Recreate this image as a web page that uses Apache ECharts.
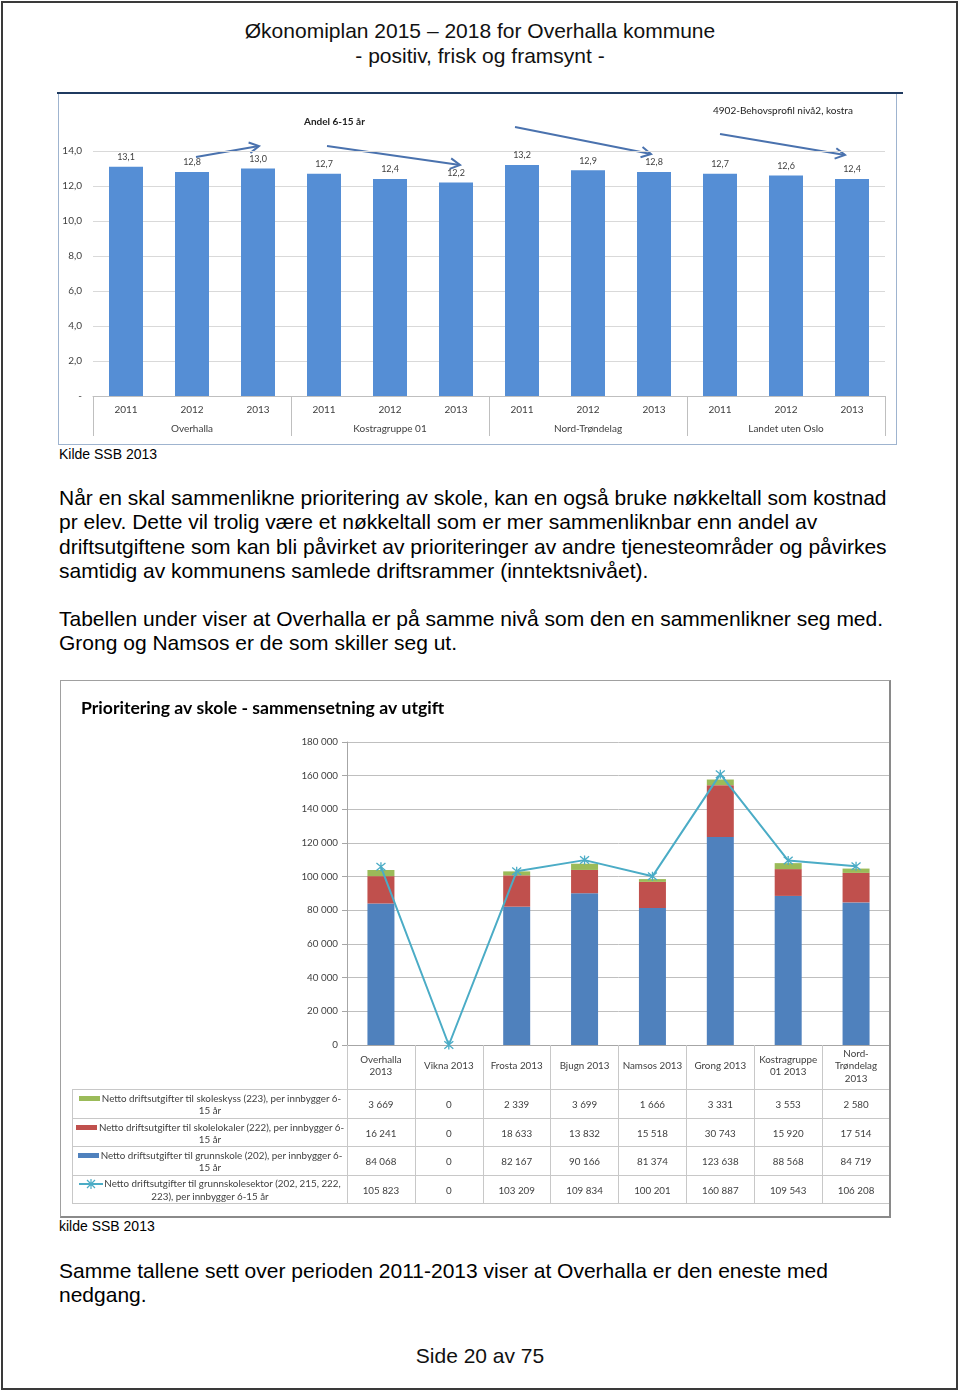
<!DOCTYPE html>
<html>
<head>
<meta charset="utf-8">
<script src="https://cdn.jsdelivr.net/npm/echarts@6.0.0/dist/echarts.min.js"></script>
<style>
  html, body { margin:0; padding:0; background:#fff; }
  body { width:960px; height:1393px; position:relative; overflow:hidden; font-family:"Liberation Sans", Arial, sans-serif; color:#000; }
  .abs { position:absolute; }
  .txt { position:absolute; left:59px; font-size:21px; line-height:24.3px; white-space:nowrap; }
  .hdr { position:absolute; left:0; width:960px; text-align:center; font-size:21px; line-height:24px; white-space:nowrap; color:#111; }
  #tbl { position:absolute; left:72px; top:1089px; width:818px; display:grid;
         grid-template-columns:275px repeat(8, 1fr); grid-template-rows:29px 28px 29px 29px;
         font-family:Lato, "Open Sans", sans-serif; font-size:9.8px; color:#404040; z-index:5; }
  #tbl .c { box-sizing:border-box; border-top:1px solid #C8C8C8; display:flex; align-items:center; justify-content:center; text-align:center; }
  #tbl .lg { border-left:1px solid #C8C8C8; line-height:12px; white-space:nowrap; }
  #tbl .last { border-bottom:1px solid #C8C8C8; }
  .sw { display:inline-block; width:21px; height:5px; vertical-align:middle; margin-right:2px; position:relative; top:-1px; }
</style>
</head>
<body>
<div class="abs" style="left:1px;top:1px;width:957px;height:1389px;border:2px solid #3a3a3a;box-sizing:border-box;"></div>

<div class="hdr" style="top:19px;">Økonomiplan 2015 – 2018 for Overhalla kommune</div>
<div class="hdr" style="top:44px;">- positiv, frisk og framsynt -</div>

<div class="abs" style="left:58px;top:94px;width:839px;height:351px;border:1px solid #9FB4CF;border-top:none;box-sizing:border-box;"></div>
<div class="abs" style="left:57px;top:92px;width:846px;height:2px;background:#1F3A60;"></div>
<div id="c1" class="abs" style="left:59px;top:94px;width:837px;height:350px;"></div>

<div class="abs" style="left:59px;top:446px;font-size:14px;line-height:16px;">Kilde SSB 2013</div>

<div class="txt" style="top:486px;">Når en skal sammenlikne prioritering av skole, kan en også bruke nøkkeltall som kostnad<br>pr elev. Dette vil trolig være et nøkkeltall som er mer sammenliknbar enn andel av<br>driftsutgiftene som kan bli påvirket av prioriteringer av andre tjenesteområder og påvirkes<br>samtidig av kommunens samlede driftsrammer (inntektsnivået).</div>
<div class="txt" style="top:607px;">Tabellen under viser at Overhalla er på samme nivå som den en sammenlikner seg med.<br>Grong og Namsos er de som skiller seg ut.</div>

<div id="c2" class="abs" style="left:60px;top:680px;width:831px;height:537px;"></div>
<div class="abs" style="left:60px;top:680px;width:831px;height:538px;border:1px solid #A0A0A0;border-right:2px solid #8a8a8a;border-bottom:2px solid #8a8a8a;box-sizing:border-box;z-index:6;pointer-events:none;"></div>
<div id="tbl"></div>

<div class="abs" style="left:59px;top:1218px;font-size:14px;line-height:16px;">kilde SSB 2013</div>

<div class="txt" style="top:1259px;">Samme tallene sett over perioden 2011-2013 viser at Overhalla er den eneste med<br>nedgang.</div>

<div class="hdr" style="top:1344px;">Side 20 av 75</div>

<script>
// ---------- Chart 1 data ----------
const years = ['2011','2012','2013','2011','2012','2013','2011','2012','2013','2011','2012','2013'];
const groups = ['Overhalla','Kostragruppe 01','Nord-Trøndelag','Landet uten Oslo'];
const andel6_15 = [13.1, 12.8, 13.0, 12.7, 12.4, 12.2, 13.2, 12.9, 12.8, 12.7, 12.6, 12.4];
const chart1Title = 'Andel 6-15 år';
const chart1Note = '4902-Behovsprofil nivå2, kostra';

// ---------- Chart 2 data ----------
const kommuner = ['Overhalla 2013','Vikna 2013','Frosta 2013','Bjugn 2013','Namsos 2013','Grong 2013','Kostragruppe 01 2013','Nord-Trøndelag 2013'];
const kommuneLabels = ['Overhalla\n2013','Vikna 2013','Frosta 2013','Bjugn 2013','Namsos 2013','Grong 2013','Kostragruppe\n01 2013','Nord-\nTrøndelag\n2013'];
const skoleskyss = [3669, 0, 2339, 3699, 1666, 3331, 3553, 2580];
const skolelokaler = [16241, 0, 18633, 13832, 15518, 30743, 15920, 17514];
const grunnskole = [84068, 0, 82167, 90166, 81374, 123638, 88568, 84719];
const grunnskolesektor = [105823, 0, 103209, 109834, 100201, 160887, 109543, 106208];
const seriesNames = [
  'Netto driftsutgifter til skoleskyss (223), per innbygger 6-15 år',
  'Netto driftsutgifter til skolelokaler (222), per innbygger 6-15 år',
  'Netto driftsutgifter til grunnskole (202), per innbygger 6-15 år',
  'Netto driftsutgifter til grunnskolesektor (202, 215, 222, 223), per innbygger 6-15 år'
];
const legendLines = [
  ['Netto driftsutgifter til skoleskyss (223), per innbygger 6-', '15 år'],
  ['Netto driftsutgifter til skolelokaler (222), per innbygger 6-', '15 år'],
  ['Netto driftsutgifter til grunnskole (202), per innbygger 6-', '15 år'],
  ['Netto driftsutgifter til grunnskolesektor (202, 215, 222,', '223), per innbygger 6-15 år']
];
const chart2Title = 'Prioritering av skole - sammensetning av utgift';

const C_GREEN = '#9BBB59', C_RED = '#C0504D', C_BLUE = '#4F81BD', C_CYAN = '#4BACC6';
const F1 = '"Liberation Sans Narrow", Lato, "Liberation Sans", sans-serif';
const F2 = 'Lato, "Open Sans", sans-serif';
const fmtSpace = v => String(v).replace(/\B(?=(\d{3})+(?!\d))/g, ' ');
const fmtComma = v => v.toFixed(1).replace('.', ',');

// ---------- Chart 1 ----------
function arrow(x1, y1, x2, y2) {
  const a = Math.atan2(y2 - y1, x2 - x1), L = 11, s = 0.5;
  const p1 = [x2 - L * Math.cos(a - s), y2 - L * Math.sin(a - s)];
  const p2 = [x2 - L * Math.cos(a + s), y2 - L * Math.sin(a + s)];
  const st = { stroke: '#4A72AE', lineWidth: 2, fill: null };
  return [
    { type: 'line', shape: { x1, y1, x2, y2 }, style: st, silent: true },
    { type: 'polyline', shape: { points: [p1, [x2, y2], p2] }, style: st, silent: true }
  ];
}
const ox = 59, oy = 94;
const arrows = [].concat(
  arrow(196 - ox, 157 - oy, 259 - ox, 146 - oy),
  arrow(327 - ox, 146 - oy, 460 - ox, 165 - oy),
  arrow(515 - ox, 127 - oy, 651 - ox, 154 - oy),
  arrow(720 - ox, 134 - oy, 845 - ox, 155 - oy)
);

const c1 = echarts.init(document.getElementById('c1'), null, { renderer: 'canvas' });
c1.setOption({
  animation: false,
  grid: { left: 93 - ox, top: 151 - oy, width: 792, height: 245, containLabel: false, outerBoundsMode: 'none' },
  xAxis: [
    { type: 'category', data: years, position: 'bottom',
      axisLine: { show: true, lineStyle: { color: '#BFBFBF' } }, axisTick: { show: false },
      axisLabel: { interval: 0, margin: 9, fontSize: 10, color: '#404040', fontFamily: F1 } },
    { type: 'category', data: groups, position: 'bottom', offset: 0,
      axisLine: { show: false },
      axisTick: { show: true, interval: 0, length: 40, lineStyle: { color: '#BFBFBF' } },
      axisLabel: { interval: 0, margin: 28, fontSize: 10, color: '#404040', fontFamily: F1 },
      splitLine: { show: false } }
  ],
  yAxis: { type: 'value', min: 0, max: 14, interval: 2,
    axisLine: { show: false }, axisTick: { show: false },
    splitLine: { lineStyle: { color: '#D9D9D9' } },
    axisLabel: { margin: 11, fontSize: 10, color: '#404040', fontFamily: F1,
      formatter: v => v === 0 ? '-' : fmtComma(v) } },
  series: [{
    type: 'bar', data: andel6_15, barWidth: 34, xAxisIndex: 0,
    itemStyle: { color: '#558ED5' },
    label: { show: true, position: 'top', distance: 5, fontSize: 9, color: '#404040', fontFamily: F1,
      formatter: p => fmtComma(p.value) }
  }],
  graphic: arrows.concat([
    { type: 'text', left: 336 - ox - 32, top: 124 - oy - 7,
      style: { text: chart1Title, font: 'bold 10px ' + F1, fill: '#222' }, silent: true },
    { type: 'text', left: 786 - ox - 73, top: 113 - oy - 7,
      style: { text: chart1Note, font: '10px ' + F1, fill: '#222' }, silent: true }
  ])
});

// ---------- Chart 2 ----------
const starPath = 'path://M0,0L10,10M10,0L0,10M5,-1L5,11';
const c2 = echarts.init(document.getElementById('c2'), null, { renderer: 'canvas' });
c2.setOption({
  animation: false,
  title: { text: chart2Title, left: 16, top: 14,
    textStyle: { fontFamily: F2, fontWeight: 'bold', fontSize: 17.6, color: '#000' } },
  grid: { left: 287, top: 62, width: 543, height: 303, containLabel: false, outerBoundsMode: 'none' },
  xAxis: { type: 'category', data: kommuneLabels,
    axisLine: { lineStyle: { color: '#A6A6A6' } },
    axisTick: { show: true, interval: 0, length: 159, lineStyle: { color: '#C8C8C8' } },
    axisLabel: { interval: 0, margin: 21, verticalAlign: 'middle', lineHeight: 12.5,
      fontSize: 9.8, color: '#404040', fontFamily: F2 } },
  yAxis: { type: 'value', min: 0, max: 180000, interval: 20000,
    axisLine: { show: true, lineStyle: { color: '#A6A6A6' } },
    axisTick: { show: true, length: 5, lineStyle: { color: '#A6A6A6' } },
    splitLine: { lineStyle: { color: '#BFBFBF' } },
    axisLabel: { margin: 9, fontSize: 9.8, color: '#404040', fontFamily: F2, formatter: v => fmtSpace(v) } },
  series: [
    { name: seriesNames[2], type: 'bar', stack: 's', data: grunnskole, barWidth: 27, itemStyle: { color: C_BLUE } },
    { name: seriesNames[1], type: 'bar', stack: 's', data: skolelokaler, itemStyle: { color: C_RED } },
    { name: seriesNames[0], type: 'bar', stack: 's', data: skoleskyss, itemStyle: { color: C_GREEN } },
    { name: seriesNames[3], type: 'line', data: grunnskolesektor, symbol: starPath, symbolSize: 9,
      lineStyle: { color: C_CYAN, width: 2 },
      itemStyle: { color: C_CYAN, borderColor: C_CYAN, borderWidth: 1.3 }, z: 5 }
  ]
});

// ---------- Data table ----------
const swatches = [
  `<span class="sw" style="background:${C_GREEN}"></span>`,
  `<span class="sw" style="background:${C_RED}"></span>`,
  `<span class="sw" style="background:${C_BLUE}"></span>`,
  `<svg width="24" height="10" style="vertical-align:middle;margin-right:1px;position:relative;top:-1px"><line x1="0" y1="5" x2="24" y2="5" stroke="${C_CYAN}" stroke-width="2"/><path d="M8,1L16,9M16,1L8,9M12,0L12,10" stroke="${C_CYAN}" stroke-width="1.2"/></svg>`
];
const rowsData = [skoleskyss, skolelokaler, grunnskole, grunnskolesektor];
let html = '';
rowsData.forEach((arr, i) => {
  const last = i === rowsData.length - 1 ? ' last' : '';
  html += `<div class="c lg${last}"><div>${swatches[i]}${legendLines[i][0]}<br>${legendLines[i][1]}</div></div>`;
  arr.forEach(v => { html += `<div class="c${last}">${fmtSpace(v)}</div>`; });
});
document.getElementById('tbl').innerHTML = html;
</script>
</body>
</html>
